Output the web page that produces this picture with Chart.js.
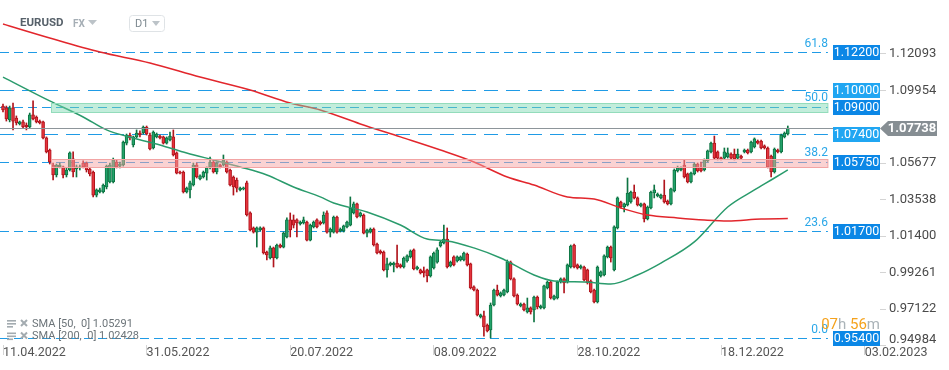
<!DOCTYPE html>
<html><head><meta charset="utf-8">
<script src="https://cdn.jsdelivr.net/npm/chart.js@4.4.1/dist/chart.umd.min.js"></script>
<style>html,body{margin:0;padding:0;background:#fff;overflow:hidden}#wrap{position:relative;width:949px;height:370px}canvas{display:block}</style>
</head><body><div id="wrap"><canvas id="c" width="949" height="370"></canvas></div>
<script>
// ---------- DATA (EURUSD, D1) ----------
const opens = [
1.0903,1.0892,1.0821,1.0892,1.0833,1.0798,1.0810,1.0792,1.0780,1.0851,
1.0839,1.0815,1.0810,1.0716,1.0645,1.0557,1.0499,1.0546,1.0546,1.0499,
1.0528,1.0593,1.0534,1.0540,1.0569,1.0569,1.0534,1.0516,1.0381,1.0399,
1.0399,1.0428,1.0458,1.0458,1.0575,1.0551,1.0557,1.0686,1.0733,1.0675,
1.0722,1.0745,1.0745,1.0780,1.0733,1.0657,1.0722,1.0727,1.0722,1.0686,
1.0704,1.0722,1.0628,1.0516,1.0516,1.0399,1.0411,1.0440,1.0557,1.0475,
1.0487,1.0510,1.0546,1.0575,1.0516,1.0557,1.0557,1.0575,1.0528,1.0487,
1.0469,1.0411,1.0417,1.0452,1.0276,1.0188,1.0164,1.0176,1.0188,1.0047,
1.0012,1.0071,1.0012,1.0088,1.0076,1.0135,1.0235,1.0235,1.0235,1.0211,
1.0217,1.0223,1.0117,1.0194,1.0235,1.0223,1.0217,1.0276,1.0164,1.0164,
1.0252,1.0170,1.0170,1.0194,1.0205,1.0276,1.0329,1.0258,1.0264,1.0158,
1.0164,1.0182,1.0094,1.0053,1.0047,0.9942,0.9971,0.9971,0.9982,0.9971,
0.9959,0.9994,1.0018,1.0059,0.9947,0.9942,0.9936,0.9942,0.9906,0.9953,
0.9988,1.0082,1.0100,1.0123,0.9965,1.0018,0.9994,1.0000,1.0000,1.0035,
0.9977,0.9842,0.9824,0.9666,0.9672,0.9619,0.9590,0.9736,0.9824,0.9789,
0.9795,0.9813,0.9988,0.9889,0.9795,0.9730,0.9742,0.9695,0.9719,0.9707,
0.9783,0.9719,0.9719,0.9836,0.9871,0.9771,0.9777,0.9871,0.9889,0.9871,
0.9959,1.0088,0.9971,0.9953,0.9959,0.9942,0.9877,0.9824,0.9754,0.9906,
0.9912,1.0018,1.0076,0.9942,1.0188,1.0340,1.0311,1.0323,1.0340,1.0399,
1.0364,1.0317,1.0329,1.0241,1.0305,1.0393,1.0376,1.0364,1.0381,1.0346,
1.0329,1.0405,1.0522,1.0528,1.0557,1.0505,1.0458,1.0505,1.0563,1.0540,
1.0528,1.0581,1.0634,1.0686,1.0634,1.0598,1.0598,1.0604,1.0622,1.0622,
1.0598,1.0610,1.0634,1.0645,1.0634,1.0663,1.0698,1.0698,1.0669,1.0657,
1.0610,1.0516,1.0645,1.0634,1.0722,1.0739];
const highs = [
1.0915,1.0903,1.0903,1.0921,1.0845,1.0815,1.0821,1.0804,1.0862,1.0933,
1.0845,1.0821,1.0815,1.0722,1.0651,1.0569,1.0563,1.0569,1.0551,1.0540,
1.0634,1.0634,1.0557,1.0557,1.0581,1.0575,1.0540,1.0522,1.0417,1.0422,
1.0446,1.0557,1.0569,1.0598,1.0587,1.0575,1.0698,1.0739,1.0745,1.0727,
1.0763,1.0757,1.0786,1.0786,1.0745,1.0757,1.0745,1.0733,1.0727,1.0722,
1.0751,1.0763,1.0634,1.0522,1.0522,1.0428,1.0463,1.0569,1.0569,1.0499,
1.0522,1.0546,1.0604,1.0587,1.0575,1.0563,1.0616,1.0581,1.0534,1.0493,
1.0481,1.0428,1.0428,1.0463,1.0282,1.0194,1.0194,1.0194,1.0194,1.0053,
1.0082,1.0076,1.0094,1.0094,1.0164,1.0247,1.0276,1.0264,1.0241,1.0229,
1.0252,1.0229,1.0211,1.0229,1.0241,1.0229,1.0282,1.0288,1.0188,1.0258,
1.0258,1.0188,1.0205,1.0229,1.0370,1.0340,1.0334,1.0282,1.0270,1.0182,
1.0188,1.0188,1.0100,1.0059,1.0053,1.0012,0.9988,0.9988,1.0088,0.9977,
1.0018,1.0030,1.0059,1.0065,0.9965,0.9947,0.9959,0.9947,1.0024,1.0047,
1.0071,1.0112,1.0205,1.0188,0.9994,1.0024,1.0024,1.0024,1.0047,1.0041,
0.9982,0.9848,0.9830,0.9683,0.9701,0.9625,0.9748,0.9830,0.9853,0.9813,
0.9830,1.0000,0.9994,0.9895,0.9801,0.9748,0.9748,0.9777,0.9725,0.9789,
0.9789,0.9736,0.9853,0.9877,0.9877,0.9795,0.9877,0.9895,0.9895,0.9977,
1.0088,1.0094,0.9977,0.9971,0.9965,0.9947,0.9883,0.9830,0.9965,0.9936,
1.0030,1.0082,1.0082,1.0200,1.0370,1.0346,1.0334,1.0481,1.0405,1.0440,
1.0370,1.0334,1.0334,1.0317,1.0405,1.0440,1.0393,1.0387,1.0469,1.0352,
1.0422,1.0534,1.0551,1.0546,1.0587,1.0510,1.0516,1.0569,1.0569,1.0575,
1.0593,1.0645,1.0692,1.0727,1.0640,1.0604,1.0657,1.0657,1.0628,1.0651,
1.0651,1.0616,1.0651,1.0651,1.0698,1.0716,1.0704,1.0704,1.0675,1.0663,
1.0616,1.0657,1.0651,1.0739,1.0751,1.0786];
const lows = [
1.0868,1.0815,1.0810,1.0763,1.0792,1.0792,1.0774,1.0763,1.0774,1.0821,
1.0804,1.0798,1.0710,1.0628,1.0563,1.0469,1.0487,1.0540,1.0481,1.0487,
1.0522,1.0487,1.0487,1.0528,1.0540,1.0516,1.0493,1.0370,1.0370,1.0393,
1.0393,1.0417,1.0452,1.0452,1.0540,1.0540,1.0551,1.0675,1.0704,1.0663,
1.0716,1.0722,1.0739,1.0733,1.0645,1.0651,1.0716,1.0710,1.0680,1.0680,
1.0698,1.0610,1.0505,1.0505,1.0393,1.0393,1.0364,1.0434,1.0481,1.0469,
1.0481,1.0469,1.0534,1.0510,1.0505,1.0540,1.0551,1.0510,1.0434,1.0381,
1.0399,1.0405,1.0411,1.0258,1.0170,1.0158,1.0076,1.0170,1.0035,1.0000,
1.0006,0.9959,1.0006,1.0071,1.0071,1.0129,1.0135,1.0188,1.0135,1.0205,
1.0211,1.0112,1.0112,1.0188,1.0188,1.0205,1.0211,1.0158,1.0135,1.0158,
1.0158,1.0164,1.0164,1.0188,1.0200,1.0270,1.0247,1.0252,1.0153,1.0135,
1.0158,1.0082,1.0035,1.0035,0.9936,0.9900,0.9965,0.9930,0.9953,0.9953,
0.9953,0.9988,1.0012,0.9942,0.9942,0.9918,0.9900,0.9871,0.9900,0.9947,
0.9982,1.0076,1.0094,0.9953,0.9959,0.9965,0.9988,0.9994,0.9994,0.9965,
0.9830,0.9818,0.9672,0.9660,0.9554,0.9578,0.9543,0.9730,0.9789,0.9783,
0.9789,0.9807,0.9883,0.9783,0.9736,0.9725,0.9701,0.9689,0.9683,0.9637,
0.9713,0.9713,0.9713,0.9830,0.9771,0.9766,0.9771,0.9865,0.9807,0.9865,
0.9953,0.9953,0.9947,0.9947,0.9877,0.9859,0.9807,0.9748,0.9748,0.9900,
0.9906,1.0012,0.9988,0.9936,1.0182,1.0305,1.0282,1.0317,1.0334,1.0358,
1.0317,1.0311,1.0223,1.0235,1.0299,1.0364,1.0370,1.0358,1.0334,1.0323,
1.0323,1.0399,1.0516,1.0522,1.0481,1.0452,1.0452,1.0499,1.0516,1.0516,
1.0522,1.0575,1.0628,1.0593,1.0587,1.0587,1.0593,1.0598,1.0593,1.0587,
1.0593,1.0593,1.0628,1.0622,1.0628,1.0657,1.0680,1.0651,1.0651,1.0540,
1.0487,1.0510,1.0628,1.0628,1.0716,1.0733];
const closes = [
1.0880,1.0827,1.0892,1.0815,1.0804,1.0810,1.0780,1.0780,1.0851,1.0827,
1.0810,1.0804,1.0716,1.0634,1.0575,1.0499,1.0557,1.0557,1.0499,1.0528,
1.0628,1.0516,1.0546,1.0546,1.0546,1.0528,1.0505,1.0381,1.0411,1.0411,
1.0440,1.0551,1.0557,1.0587,1.0546,1.0563,1.0692,1.0733,1.0716,1.0722,
1.0745,1.0733,1.0780,1.0739,1.0651,1.0751,1.0739,1.0716,1.0686,1.0716,
1.0727,1.0616,1.0510,1.0510,1.0399,1.0422,1.0452,1.0557,1.0487,1.0493,
1.0516,1.0540,1.0575,1.0516,1.0569,1.0546,1.0587,1.0516,1.0440,1.0428,
1.0422,1.0422,1.0422,1.0264,1.0176,1.0164,1.0188,1.0188,1.0041,1.0030,
1.0071,1.0012,1.0088,1.0076,1.0158,1.0235,1.0176,1.0205,1.0217,1.0223,
1.0235,1.0117,1.0205,1.0223,1.0194,1.0211,1.0264,1.0164,1.0182,1.0252,
1.0164,1.0182,1.0200,1.0223,1.0305,1.0329,1.0252,1.0276,1.0158,1.0176,
1.0182,1.0088,1.0041,1.0041,0.9942,0.9977,0.9982,0.9982,0.9959,0.9959,
1.0012,1.0024,1.0053,0.9947,0.9959,0.9924,0.9924,0.9906,1.0018,1.0041,
1.0059,1.0106,1.0123,0.9959,0.9988,0.9971,1.0018,1.0018,1.0041,0.9971,
0.9836,0.9824,0.9678,0.9678,0.9607,0.9584,0.9736,0.9824,0.9795,0.9807,
0.9824,0.9988,0.9889,0.9789,0.9742,0.9742,0.9707,0.9719,0.9695,0.9783,
0.9725,0.9730,0.9848,0.9871,0.9777,0.9789,0.9871,0.9889,0.9865,0.9971,
1.0082,0.9959,0.9953,0.9965,0.9883,0.9865,0.9813,0.9754,0.9959,0.9930,
1.0024,1.0076,1.0012,1.0194,1.0364,1.0311,1.0329,1.0393,1.0399,1.0364,
1.0323,1.0329,1.0241,1.0311,1.0399,1.0411,1.0387,1.0381,1.0340,1.0329,
1.0417,1.0528,1.0540,1.0540,1.0487,1.0458,1.0510,1.0563,1.0522,1.0522,
1.0587,1.0640,1.0686,1.0598,1.0598,1.0593,1.0634,1.0628,1.0598,1.0593,
1.0622,1.0598,1.0645,1.0628,1.0692,1.0710,1.0686,1.0657,1.0657,1.0546,
1.0516,1.0651,1.0634,1.0733,1.0745,1.07738];

// SMA readings (bar index, value)
const sma50Idx = [0,14,24,31,39,47,55,63,71,79,87,95,99,109,119,127,133,141,149,159,165,174,182,190,197,207,217,225,231,235];
const sma50Val = [1.1073,1.0933,1.0839,1.0763,1.0716,1.0675,1.0628,1.0587,1.0546,1.0499,1.0428,1.0370,1.0334,1.0282,1.0205,1.0123,1.0112,1.0071,1.0012,0.9912,0.9877,0.9871,0.9859,0.9912,0.9982,1.0106,1.0311,1.0411,1.0481,1.05291];
const sma200Idx = [0,14,29,44,59,74,86,95,107,119,131,141,151,159,169,177,185,193,202,210,217,227,235];
const sma200Val = [1.1384,1.1302,1.1220,1.1156,1.1073,1.0997,1.0921,1.0880,1.0798,1.0722,1.0645,1.0575,1.0487,1.0440,1.0370,1.0358,1.0305,1.0264,1.0247,1.0235,1.0229,1.0241,1.02428];

// axis ticks
const xTickIdx = [0,43,86,129,172,215,258];
const xTickLabels = ['11.04.2022','31.05.2022','20.07.2022','08.09.2022','28.10.2022','18.12.2022','03.02.2023'];
const yTicks = [1.12093,1.09954,1.05677,1.03538,1.01400,0.99261,0.97122,0.94984];

// levels
const fibValues = [1.122,1.090,1.0575,1.017,0.954];
const fibLabels = ['61.8','50.0','38.2','23.6','0.0'];
const lineValues = [1.100,1.074];
const zoneTops = [1.0921,1.0593];
const zoneBottoms = [1.0868,1.0546];
const zoneStartIdx = [14.4,14.4];
const lastPrice = 1.07738;
const smaLegend = ['SMA [50,  0] 1.05291','SMA [200,  0] 1.02428'];

// ---------- LAYOUT / STYLE ----------
const X_MIN = -0.9, X_MAX = 262.6, LEVEL_END = 247;
const Y_MAX = 1.1525, Y_MIN = 0.95015;
const FONT = 'Roboto, "Open Sans", Arial, sans-serif';
const UP = '#23a36b', UP_LINE = '#0e7443', DN = '#e5343d', DN_LINE = '#b0151d';
const LEVEL_BLUE = '#1f9be6';

const idx = closes.map((_, i) => i);
const isUp = idx.map(i => closes[i] >= opens[i]);
const bodyData = idx.map(i => ({x: i, y: [Math.min(opens[i], closes[i]), Math.max(opens[i], closes[i])]}));
const wickData = idx.map(i => ({x: i, y: [lows[i], highs[i]]}));
const sma50 = sma50Idx.map((v, k) => ({x: v, y: sma50Val[k]}));
const sma200 = sma200Idx.map((v, k) => ({x: v, y: sma200Val[k]}));

function fmt5(v){ return v.toFixed(5); }

const overlay = {
  id: 'overlay',
  beforeDatasetsDraw(chart) {
    const {ctx, chartArea: a, scales: {x, y}} = chart;
    const xEnd = x.getPixelForValue(LEVEL_END);
    ctx.save();
    ctx.beginPath(); ctx.rect(a.left, a.top, a.right - a.left, a.bottom - a.top); ctx.clip();
    ctx.lineWidth = 1; ctx.strokeStyle = LEVEL_BLUE;
    fibValues.forEach(v => {
      const py = Math.round(y.getPixelForValue(v)) + 0.5;
      ctx.setLineDash([9, 5]); ctx.beginPath(); ctx.moveTo(a.left, py); ctx.lineTo(xEnd, py); ctx.stroke();
    });
    lineValues.forEach(v => {
      const py = Math.round(y.getPixelForValue(v)) + 0.5;
      ctx.setLineDash([14, 8]); ctx.beginPath(); ctx.moveTo(a.left, py); ctx.lineTo(xEnd, py); ctx.stroke();
    });
    ctx.restore();
  },
  afterDatasetsDraw(chart) {
    const {ctx, chartArea: a, scales: {x, y}} = chart;
    const xEnd = x.getPixelForValue(LEVEL_END);
    ctx.save();
    const fills = ['rgba(120,215,175,0.45)', 'rgba(245,165,165,0.5)'];
    const borders = ['#93dcbb', '#f2a4a4'];
    zoneTops.forEach((t, k) => {
      const x0 = Math.round(x.getPixelForValue(zoneStartIdx[k])) + 0.5;
      const y0 = Math.round(y.getPixelForValue(t)) + 0.5;
      const y1 = Math.round(y.getPixelForValue(zoneBottoms[k])) + 0.5;
      ctx.fillStyle = fills[k]; ctx.fillRect(x0, y0, xEnd - x0, y1 - y0);
      ctx.strokeStyle = borders[k]; ctx.lineWidth = 1; ctx.strokeRect(x0, y0, xEnd - x0, y1 - y0);
    });
    const lp = Math.round(y.getPixelForValue(lastPrice)) + 0.5;
    ctx.strokeStyle = '#8d959a'; ctx.lineWidth = 1; ctx.setLineDash([]);
    ctx.beginPath(); ctx.moveTo(a.left, lp); ctx.lineTo(a.right, lp); ctx.stroke();
    ctx.restore();
  },
  afterDraw(chart) {
    const {ctx, chartArea: a, scales: {x, y}} = chart;
    const xEnd = x.getPixelForValue(LEVEL_END);
    ctx.save();
    // fib labels
    ctx.font = '12px ' + FONT; ctx.fillStyle = '#2aa7e8'; ctx.textAlign = 'right'; ctx.textBaseline = 'middle';
    fibValues.forEach((v, k) => { ctx.fillText(fibLabels[k], xEnd, y.getPixelForValue(v) - 8.5); });
    // level boxes
    const bx0 = Math.round(xEnd) + 5, bx1 = Math.round(a.right);
    const boxes = fibValues.map(v => [v, '#0b87e6']).concat(lineValues.map(v => [v, '#20a6f2']));
    ctx.font = '12.5px ' + FONT; ctx.textAlign = 'center';
    boxes.forEach(([v, col]) => {
      const py = Math.round(y.getPixelForValue(v));
      ctx.fillStyle = col; ctx.fillRect(bx0, py - 7, bx1 - bx0, 15);
      ctx.fillStyle = '#fff'; ctx.fillText(fmt5(v), (bx0 + bx1) / 2, py + 0.5);
    });
    // last price arrow label
    const lp = Math.round(y.getPixelForValue(lastPrice));
    ctx.fillStyle = '#868e93';
    ctx.beginPath(); ctx.moveTo(a.right, lp + 0.5); ctx.lineTo(a.right + 8, lp - 7); ctx.lineTo(937, lp - 7);
    ctx.lineTo(937, lp + 8); ctx.lineTo(a.right + 8, lp + 8); ctx.closePath(); ctx.fill();
    ctx.fillStyle = '#fff'; ctx.font = 'bold 13px ' + FONT; ctx.textAlign = 'center';
    ctx.fillText(fmt5(lastPrice), 912, lp + 1);
    // bottom y tick label (kept inside)
    const lastT = yTicks[yTicks.length - 1];
    ctx.font = '13px ' + FONT; ctx.fillStyle = '#4a4a4a'; ctx.textAlign = 'left';
    ctx.fillText(fmt5(lastT), a.right + 9, Math.min(y.getPixelForValue(lastT), a.bottom - 5));
    // header
    ctx.textBaseline = 'middle';
    ctx.font = 'bold 11.5px ' + FONT; ctx.fillStyle = '#57616a'; ctx.fillText('EURUSD', 20, 23);
    ctx.font = 'bold 10px ' + FONT; ctx.fillStyle = '#a5aeb5'; ctx.fillText('FX', 73, 24);
    ctx.fillStyle = '#bcc3c8';
    ctx.beginPath(); ctx.moveTo(88, 20); ctx.lineTo(97, 20); ctx.lineTo(92.5, 25); ctx.closePath(); ctx.fill();
    ctx.strokeStyle = '#dfe3e6'; ctx.lineWidth = 1;
    ctx.beginPath(); ctx.roundRect(129.5, 15.5, 35, 16, 3); ctx.stroke();
    ctx.font = '11px ' + FONT; ctx.fillStyle = '#7d8990'; ctx.fillText('D1', 135, 24);
    ctx.fillStyle = '#bcc3c8';
    ctx.beginPath(); ctx.moveTo(152, 21); ctx.lineTo(160, 21); ctx.lineTo(156, 26); ctx.closePath(); ctx.fill();
    // SMA legend
    ctx.font = '11px ' + FONT;
    smaLegend.forEach((t, k) => {
      const cy = 324 + k * 12.5;
      ctx.fillStyle = '#a3abb0';
      ctx.fillRect(7, cy - 4, 9, 1.6); ctx.fillRect(7, cy - 1, 9, 1.6); ctx.fillRect(7, cy + 2, 6, 1.6);
      ctx.strokeStyle = '#a3abb0'; ctx.lineWidth = 2;
      ctx.beginPath(); ctx.moveTo(21, cy - 4); ctx.lineTo(27, cy + 2); ctx.moveTo(27, cy - 4); ctx.lineTo(21, cy + 2); ctx.stroke();
      ctx.fillStyle = '#6c7479'; ctx.fillText(t, 32, cy);
    });
    // countdown
    ctx.font = '15px ' + FONT; ctx.textAlign = 'left';
    const parts = [['07', '#f5a21c'], ['h', '#aab3b8'], [' 56', '#f5a21c'], ['m', '#aab3b8']];
    let w = parts.reduce((s, p) => s + ctx.measureText(p[0]).width, 0);
    let cx = a.right - w;
    parts.forEach(p => { ctx.fillStyle = p[1]; ctx.fillText(p[0], cx, 325); cx += ctx.measureText(p[0]).width; });
    ctx.restore();
  }
};

new Chart(document.getElementById('c'), {
  type: 'bar',
  data: {
    datasets: [
      {type: 'line', label: 'SMA 200', data: sma200, borderColor: '#e2262c', borderWidth: 1.5, pointRadius: 0, cubicInterpolationMode: 'monotone', order: 1},
      {type: 'line', label: 'SMA 50', data: sma50, borderColor: '#2a9b6c', borderWidth: 1.5, pointRadius: 0, cubicInterpolationMode: 'monotone', order: 1},
      {label: 'body', data: bodyData, grouped: false, barThickness: 3, minBarLength: 1,
       backgroundColor: isUp.map(u => u ? UP : DN), borderColor: isUp.map(u => u ? UP_LINE : DN_LINE), borderWidth: 1, borderSkipped: false, order: 2},
      {label: 'wick', data: wickData, grouped: false, barThickness: 1,
       backgroundColor: isUp.map(u => u ? UP_LINE : DN_LINE), borderWidth: 0, order: 3}
    ]
  },
  options: {
    responsive: false, animation: false, devicePixelRatio: 1, events: [],
    layout: {padding: 0},
    plugins: {legend: {display: false}, tooltip: {enabled: false}},
    scales: {
      x: {
        type: 'linear', min: X_MIN, max: X_MAX, offset: false,
        grid: {display: true, drawOnChartArea: false, drawTicks: true, tickLength: 10, color: '#d4d4d4', offset: false},
        border: {display: false},
        ticks: {align: 'start', padding: -10, maxRotation: 0, autoSkip: false, color: '#555', font: {family: FONT, size: 12.5},
          callback: v => { const k = xTickIdx.indexOf(v); return k >= 0 ? xTickLabels[k] : ''; }},
        afterBuildTicks: s => { s.ticks = xTickIdx.map(v => ({value: v})); },
        afterFit: s => { s.height = 25; s.paddingLeft = 0; s.paddingRight = 0; }
      },
      y: {
        type: 'linear', position: 'right', min: Y_MIN, max: Y_MAX,
        grid: {display: true, drawOnChartArea: false, drawTicks: true, tickLength: 6, color: '#d4d4d4'},
        border: {display: false},
        ticks: {padding: 3, color: '#4a4a4a', font: {family: FONT, size: 13},
          callback: v => (v === yTicks[yTicks.length - 1] ? '' : fmt5(v))},
        afterBuildTicks: s => { s.ticks = yTicks.map(v => ({value: v})); },
        afterFit: s => { s.width = 69; s.paddingTop = 0; s.paddingBottom = 0; }
      }
    }
  },
  plugins: [overlay]
});
</script>
</body></html>
